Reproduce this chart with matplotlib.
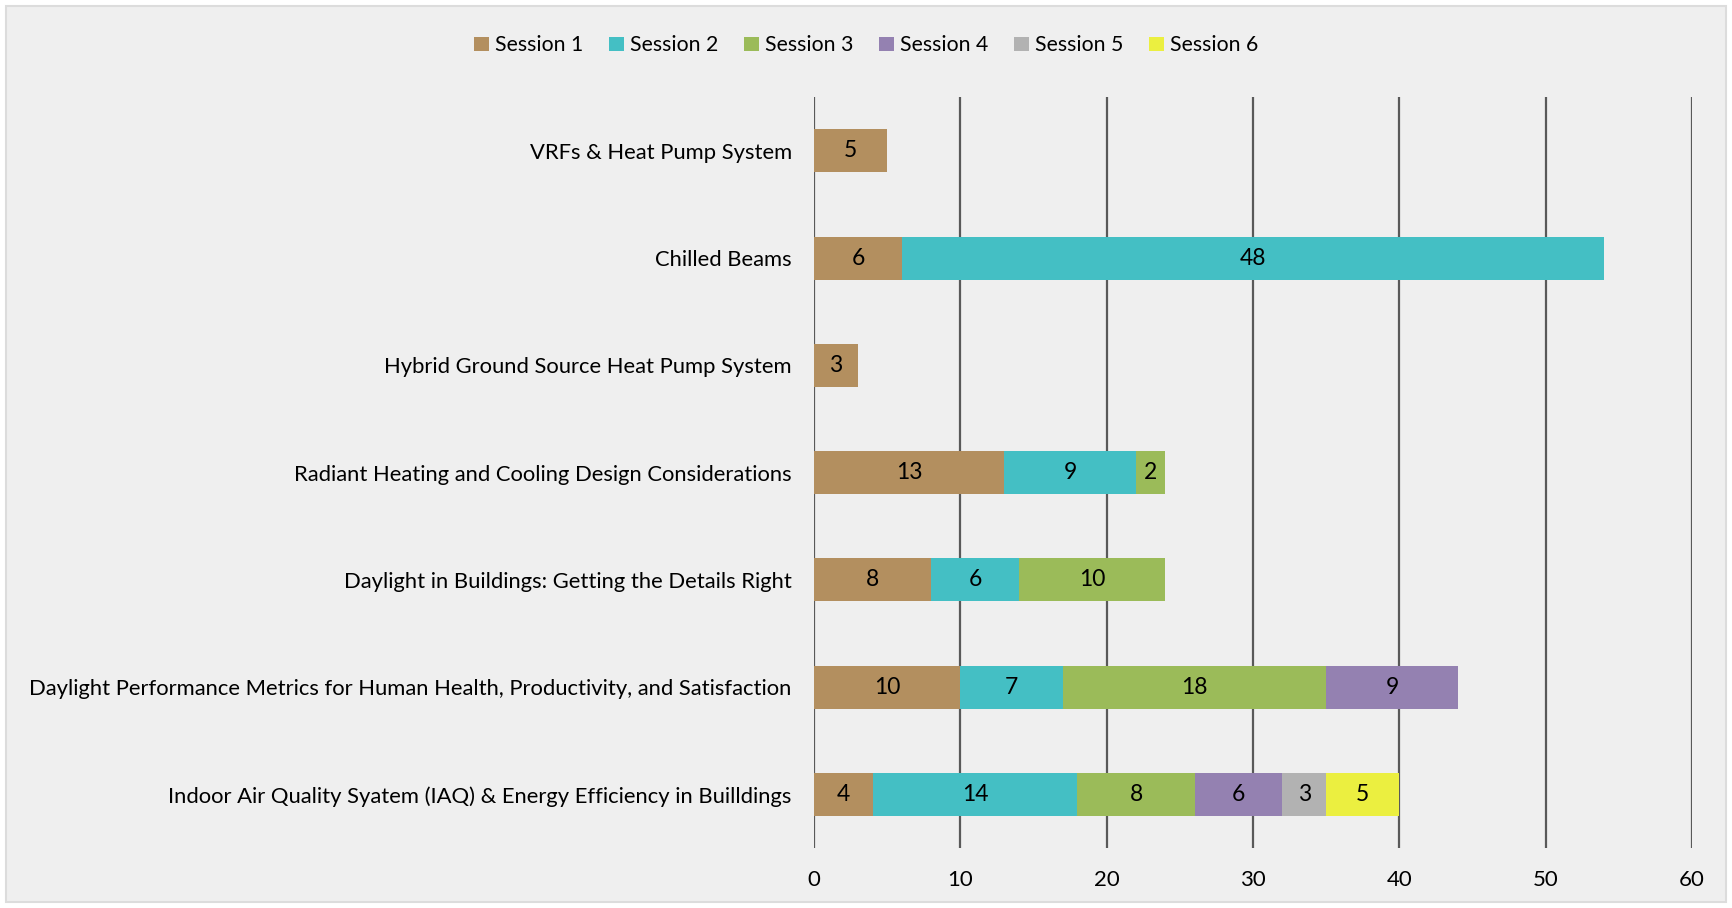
import numpy as np
import matplotlib.pyplot as plt
from matplotlib.patches import Rectangle

categories = [
    "VRFs & Heat Pump System",
    "Chilled Beams",
    "Hybrid Ground Source Heat Pump System",
    "Radiant Heating and Cooling Design Considerations",
    "Daylight in Buildings: Getting the Details Right",
    "Daylight Performance Metrics for Human Health, Productivity, and Satisfaction",
    "Indoor Air Quality Syatem (IAQ) & Energy Efficiency in Builldings",
]
sessions = ["Session 1", "Session 2", "Session 3", "Session 4", "Session 5", "Session 6"]

session_1 = [5, 6, 3, 13, 8, 10, 4]
session_2 = [0, 48, 0, 9, 6, 7, 14]
session_3 = [0, 0, 0, 2, 10, 18, 8]
session_4 = [0, 0, 0, 0, 0, 9, 6]
session_5 = [0, 0, 0, 0, 0, 0, 3]
session_6 = [0, 0, 0, 0, 0, 0, 5]

colors = ["#b38f5f", "#44bfc4", "#9bbb59", "#9481b1", "#b2b2b2", "#ebef40"]

plt.rcParams['font.family'] = ['Lato', 'DejaVu Sans']

fig = plt.figure(figsize=(17.32, 9.08), dpi=100)
fig.patch.set_facecolor("white")
fig.patches.append(Rectangle((6 / 1732, 6 / 908), 1720 / 1732, 896 / 908,
                             transform=fig.transFigure, facecolor="#efefef",
                             edgecolor="#dcdcdc", linewidth=1.5, zorder=-10))

ax = fig.add_axes([0.470, 0.066, 0.507, 0.827])
ax.set_facecolor("none")

y = np.arange(len(categories))
left = np.zeros(len(categories))
for name, vals, c in zip(sessions, [session_1, session_2, session_3, session_4, session_5, session_6], colors):
    vals = np.array(vals)
    bars = ax.barh(y, vals, left=left, height=0.4, color=c, label=name, zorder=3)
    for b, v in zip(bars, vals):
        if v > 0:
            ax.text(b.get_x() + b.get_width() / 2, b.get_y() + b.get_height() / 2, str(v),
                    ha="center", va="center", fontsize=16.5, color="black", zorder=4)
    left += vals

ax.set_xlim(0, 60)
ax.set_ylim(len(categories) - 0.5, -0.5)
ax.set_xticks(range(0, 61, 10))
ax.set_yticks(y)
ax.set_yticklabels(categories)
ax.grid(axis="x", color="#595959", linewidth=1.6, zorder=1)
ax.tick_params(axis="both", length=0, labelsize=16)
ax.tick_params(axis="y", labelsize=15.8)
ax.tick_params(axis="x", pad=16)
ax.tick_params(axis="y", pad=16)
for s in ax.spines.values():
    s.set_visible(False)

fig.legend(loc="upper center", bbox_to_anchor=(0.5, 0.982), ncol=6, frameon=False,
           fontsize=15.3, handlelength=0.7, handleheight=0.7, handletextpad=0.3,
           columnspacing=1.2)

fig.savefig("out.png", dpi=100)
